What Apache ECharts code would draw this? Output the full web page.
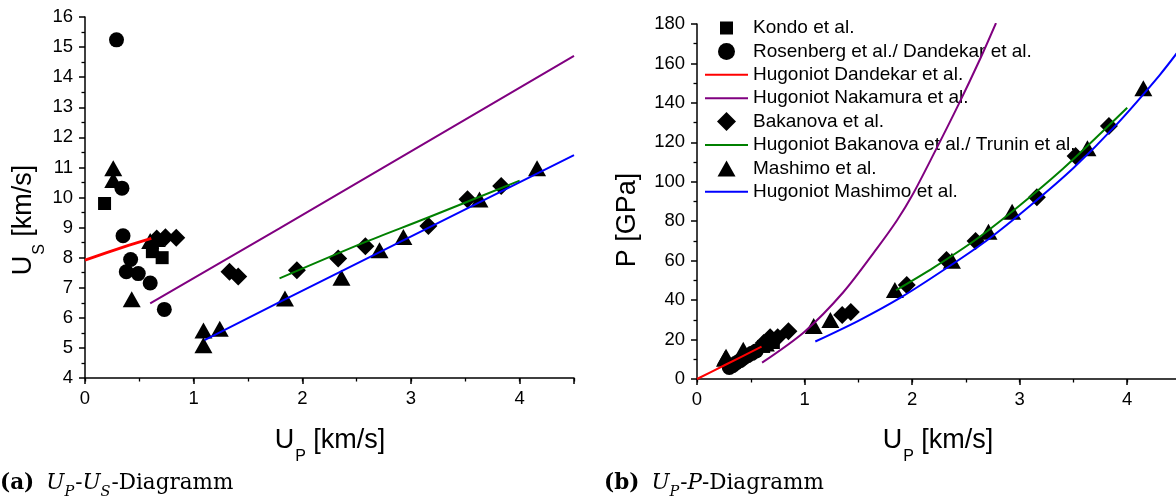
<!DOCTYPE html>
<html><head><meta charset="utf-8">
<script src="https://cdn.jsdelivr.net/npm/echarts@6/dist/echarts.min.js"></script>
<style>html,body{margin:0;padding:0;background:#fff}#c{width:1176px;height:496px}</style>
</head><body><div id="c"></div>
<script>
// ---------- data: (a) Up-Us ----------
const kondoUp = [0.18, 0.62, 0.71];
const kondoUs = [9.8, 8.2, 8.0];
const rosenbergUp = [0.29, 0.34, 0.35, 0.42, 0.38, 0.49, 0.60, 0.73];
const rosenbergUs = [15.24, 10.31, 8.73, 7.94, 7.53, 7.47, 7.16, 6.28];
const bakanovaUp = [0.66, 0.74, 0.84, 1.33, 1.41, 1.95, 2.33, 2.58, 3.16, 3.52, 3.83];
const bakanovaUs = [8.64, 8.68, 8.66, 7.53, 7.37, 7.58, 7.97, 8.38, 9.05, 9.94, 10.38];
const mashimoUp = [0.26, 0.26, 0.43, 0.60, 0.66, 1.09, 1.09, 1.24, 1.84, 2.36, 2.71, 2.93, 3.63, 4.16];
const mashimoUs = [10.97, 10.58, 6.62, 8.55, 8.62, 5.58, 5.09, 5.64, 6.64, 7.33, 8.25, 8.69, 9.93, 10.97];
const dandekarFitUp = [0, 0.2, 0.4, 0.61];
const dandekarFitUs = [7.92, 8.17, 8.41, 8.64];
const nakamuraFitUp = [0.6, 1.79, 4.5];
const nakamuraFitUs = [6.48, 8.97, 14.71];
const bakanovaFitUp = [1.79, 2.56, 3.14, 4.0];
const bakanovaFitUs = [7.31, 8.49, 9.31, 10.56];
const mashimoFitUp = [1.1, 1.79, 4.5];
const mashimoFitUs = [5.26, 6.52, 11.41];

// ---------- data: (b) Up-P ----------
const kondoUpB = [0.62, 0.71];
const kondoP = [16.5, 18.5];
const rosenbergUpB = [0.30, 0.33, 0.36, 0.40, 0.43, 0.47, 0.51, 0.55];
const rosenbergP = [5.8, 6.8, 8.0, 9.3, 10.5, 11.8, 13.0, 14.2];
const bakanovaUpB = [0.62, 0.68, 0.75, 0.85, 1.35, 1.43, 1.95, 2.32, 2.59, 3.16, 3.52, 3.83];
const bakanovaP = [18.2, 21.2, 21.2, 24.2, 32.5, 34.0, 47.7, 60.3, 70.0, 92.1, 113.1, 128.3];
const mashimoUpB = [0.26, 0.27, 0.43, 0.64, 1.085, 1.24, 1.84, 2.37, 2.71, 2.93, 3.63, 4.15];
const mashimoP = [10.3, 11.3, 14.8, 18.0, 26.9, 29.9, 45.1, 60.0, 74.7, 84.8, 117.0, 147.4];
const dandekarFitUpB = [0, 0.26, 0.6];
const dandekarFitP = [0, 7.1, 16.4];
const nakamuraFitUpB = [0.605, 1.0, 1.36, 1.67, 1.86, 2.0, 2.2, 2.43, 2.63, 2.78];
const nakamuraFitP = [8.3, 24, 44, 66, 80.5, 93, 114, 139, 162, 180.5];
const bakanovaFitUpB = [1.85, 2.2, 2.6, 3.0, 3.4, 3.8, 4.0];
const bakanovaFitP = [45, 56.5, 71, 88, 106.5, 127, 137.5];
const mashimoFitUpB = [1.1, 1.5, 1.9, 2.3, 2.7, 3.1, 3.5, 3.9, 4.3, 4.5];
const mashimoFitP = [19, 29.5, 41.5, 55.5, 70.5, 88, 107, 129, 154, 168];

// ---------- axes / labels ----------
const upRange = [0, 4.5];
const usRange = [4, 16];
const pRange = [0, 180];
const seriesNames = ['Kondo et al.', 'Rosenberg et al./ Dandekar et al.', 'Hugoniot Dandekar et al.',
  'Hugoniot Nakamura et al.', 'Bakanova et al.', 'Hugoniot Bakanova et al./ Trunin et al.',
  'Mashimo et al.', 'Hugoniot Mashimo et al.'];
const captionA = ['(a)', 'U', 'P', 'U', 'S', '-Diagramm'];
const captionB = ['(b)', 'U', 'P', 'P', '-Diagramm'];

const SANS = 'Liberation Sans';
const SERIF = 'DejaVu Serif';
const TICK_FS = 18.5;
const pts = (xs, ys) => xs.map((x, i) => [x, ys[i]]);

function xMain(g) {
  return {
    type: 'value', gridIndex: g, position: 'bottom', min: upRange[0], max: upRange[1], interval: 1,
    axisLine: { show: true, onZero: false, lineStyle: { color: '#000', width: 1.5 } },
    axisTick: { show: true, inside: false, length: 6, lineStyle: { color: '#000', width: 1.5 } },
    minorTick: { show: false }, splitLine: { show: false },
    axisLabel: { color: '#000', fontSize: TICK_FS, fontFamily: SANS, margin: 11,
      formatter: v => (Math.abs(v - Math.round(v)) < 1e-9 ? String(v) : '') }
  };
}
function xMinor(g) {
  return {
    type: 'value', gridIndex: g, position: 'bottom', offset: 0, min: upRange[0], max: upRange[1], interval: 0.5,
    axisLine: { show: false }, axisLabel: { show: false }, splitLine: { show: false },
    axisTick: { show: true, inside: false, length: 3.5, lineStyle: { color: '#000', width: 1.3 } }
  };
}
function yAx(g, range, interval) {
  return {
    type: 'value', gridIndex: g, min: range[0], max: range[1], interval: interval,
    axisLine: { show: true, onZero: false, lineStyle: { color: '#000', width: 1.5 } },
    axisTick: { show: true, inside: false, length: 6, lineStyle: { color: '#000', width: 1.5 } },
    minorTick: { show: true, splitNumber: 2, length: 3.5, lineStyle: { color: '#000', width: 1.3 } },
    splitLine: { show: false }, minorSplitLine: { show: false },
    axisLabel: { color: '#000', fontSize: TICK_FS, fontFamily: SANS, margin: 12 }
  };
}

function scatter(name, xi, yi, data, symbol, size) {
  return { type: 'scatter', name, xAxisIndex: xi, yAxisIndex: yi, data, symbol, symbolSize: size,
    itemStyle: { color: '#000', opacity: 1 }, z: 3, silent: true };
}
function line(name, xi, yi, data, color, width, smooth) {
  return { type: 'line', name, xAxisIndex: xi, yAxisIndex: yi, data, symbol: 'none', showSymbol: false,
    smooth: smooth ? 0.3 : false, clip: true,
    lineStyle: { color, width }, itemStyle: { color }, z: 6, silent: true };
}

const RED = '#ff0000', PURPLE = '#800080', GREEN = '#008000', BLUE = '#0000ff';
const SQ = 13, CI = 15, DI = 18, TR = [18, 16];

const series = [
  // (a)
  scatter(seriesNames[0], 0, 0, pts(kondoUp, kondoUs), 'rect', SQ),
  scatter(seriesNames[1], 0, 0, pts(rosenbergUp, rosenbergUs), 'circle', CI),
  scatter(seriesNames[4], 0, 0, pts(bakanovaUp, bakanovaUs), 'diamond', DI),
  scatter(seriesNames[6], 0, 0, pts(mashimoUp, mashimoUs), 'triangle', TR),
  line(seriesNames[2], 0, 0, pts(dandekarFitUp, dandekarFitUs), RED, 2.8, false),
  line(seriesNames[3], 0, 0, pts(nakamuraFitUp, nakamuraFitUs), PURPLE, 2, false),
  line(seriesNames[5], 0, 0, pts(bakanovaFitUp, bakanovaFitUs), GREEN, 2, true),
  line(seriesNames[7], 0, 0, pts(mashimoFitUp, mashimoFitUs), BLUE, 2, false),
  // (b)
  scatter(seriesNames[0], 1, 1, pts(kondoUpB, kondoP), 'rect', SQ),
  scatter(seriesNames[1], 1, 1, pts(rosenbergUpB, rosenbergP), 'circle', CI),
  scatter(seriesNames[4], 1, 1, pts(bakanovaUpB, bakanovaP), 'diamond', DI),
  scatter(seriesNames[6], 1, 1, pts(mashimoUpB, mashimoP), 'triangle', TR),
  line(seriesNames[2], 1, 1, pts(dandekarFitUpB, dandekarFitP), RED, 2, true),
  line(seriesNames[3], 1, 1, pts(nakamuraFitUpB, nakamuraFitP), PURPLE, 2, true),
  line(seriesNames[5], 1, 1, pts(bakanovaFitUpB, bakanovaFitP), GREEN, 2, true),
  line(seriesNames[7], 1, 1, pts(mashimoFitUpB, mashimoFitP), BLUE, 2, true)
];

// legend icons: anchors M0,0 and M43,19 fix the icon box so shapes keep their size
const ANCH = 'M0,0L0,0M43,19L43,19';
const LINE_ICON = 'path://' + ANCH + 'M0,8.5H43V10.5H0Z';
const legendIcons = [
  'path://' + ANCH + 'M15,3H28V16H15Z',
  'path://' + ANCH + 'M30,9.5A8.5,8.5,0,1,1,13,9.5A8.5,8.5,0,1,1,30,9.5Z',
  LINE_ICON,
  LINE_ICON,
  'path://' + ANCH + 'M21.5,0L31,9.5L21.5,19L12,9.5Z',
  LINE_ICON,
  'path://' + ANCH + 'M21.5,1.5L30.5,17.5L12.5,17.5Z',
  LINE_ICON
];

const nameRich = {
  m: { fontSize: 27, fontFamily: SANS, color: '#000', verticalAlign: 'top', lineHeight: 30 },
  s: { fontSize: 16, fontFamily: SANS, color: '#000', verticalAlign: 'top', lineHeight: 16, padding: [22, 0, 0, 1] }
};
const capRich = {
  b: { fontSize: 21.5, fontFamily: SERIF, fontWeight: 'bold', color: '#000', verticalAlign: 'top', lineHeight: 24, padding: [0, 12, 0, 0] },
  i: { fontSize: 21.5, fontFamily: SERIF, fontStyle: 'italic', color: '#000', verticalAlign: 'top', lineHeight: 24 },
  s: { fontSize: 14.5, fontFamily: SERIF, fontStyle: 'italic', color: '#000', verticalAlign: 'top', lineHeight: 14, padding: [13, 1, 0, 0] },
  r: { fontSize: 21.5, fontFamily: SERIF, color: '#000', verticalAlign: 'top', lineHeight: 24 }
};

const graphic = [
  { type: 'text', x: 25, y: 220, rotation: Math.PI / 2, silent: true,
    style: { text: '{m|U}{s|S}{m| [km/s]}', rich: nameRich, align: 'center', verticalAlign: 'middle' } },
  { type: 'text', x: 330, y: 442, silent: true,
    style: { text: '{m|U}{s|P}{m| [km/s]}', rich: nameRich, align: 'center', verticalAlign: 'middle' } },
  { type: 'text', x: 938, y: 442, silent: true,
    style: { text: '{m|U}{s|P}{m| [km/s]}', rich: nameRich, align: 'center', verticalAlign: 'middle' } },
  { type: 'text', x: 628, y: 220, rotation: Math.PI / 2, silent: true,
    style: { text: 'P [GPa]', font: '27px "' + SANS + '"', fill: '#000', align: 'center', verticalAlign: 'middle' } },
  { type: 'text', x: 0, y: 484, silent: true,
    style: { text: `{b|${captionA[0]}}{i|${captionA[1]}}{s|${captionA[2]}}{r|-}{i|${captionA[3]}}{s|${captionA[4]}}{r|${captionA[5]}}`,
      rich: capRich, align: 'left', verticalAlign: 'middle' } },
  { type: 'text', x: 604, y: 484, silent: true,
    style: { text: `{b|${captionB[0]}}{i|${captionB[1]}}{s|${captionB[2]}}{r|-}{i|${captionB[3]}}{r|${captionB[4]}}`,
      rich: capRich, align: 'left', verticalAlign: 'middle' } }
];

const chart = echarts.init(document.getElementById('c'), null, { renderer: 'canvas' });
chart.setOption({
  animation: false,
  backgroundColor: '#fff',
  grid: [
    { left: 85, top: 17, width: 489, height: 361, outerBoundsMode: 'none', containLabel: false },
    { left: 697, top: 24, width: 484, height: 355, outerBoundsMode: 'none', containLabel: false }
  ],
  xAxis: [xMain(0), xMain(1), xMinor(0), xMinor(1)],
  yAxis: [yAx(0, usRange, 1), yAx(1, pRange, 20)],
  legend: {
    orient: 'vertical', left: 700, top: 13.5, padding: 5, itemWidth: 43, itemHeight: 19, itemGap: 4.4,
    selectedMode: false, z: 4, symbolKeepAspect: true,
    textStyle: { fontSize: 19, fontFamily: SANS, color: '#000' },
    data: seriesNames.map((n, i) => ({ name: n, icon: legendIcons[i] }))
  },
  series,
  graphic
});
</script>
</body></html>
